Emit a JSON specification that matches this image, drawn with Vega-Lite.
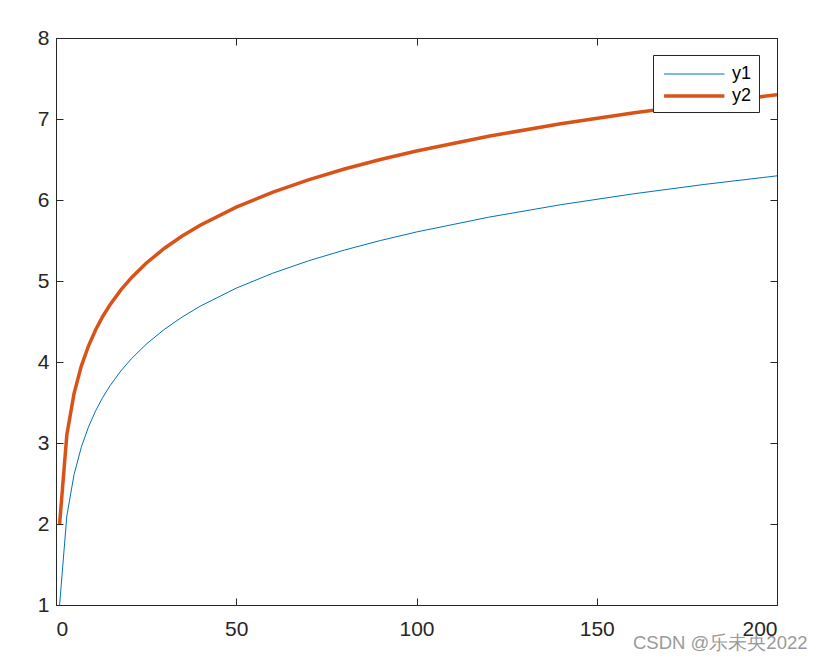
{
  "$schema": "https://vega.github.io/schema/vega-lite/v6.json",
  "width": 721,
  "height": 567,
  "autosize": "none",
  "padding": {"left": 56, "top": 38, "right": 45, "bottom": 56},
  "background": "white",
  "title": {
    "text": "CSDN @乐未央2022",
    "orient": "bottom",
    "anchor": "end",
    "offset": -5,
    "dx": 30,
    "font": "Liberation Sans",
    "fontSize": 18.5,
    "fontWeight": "normal",
    "color": "#9a9a9a"
  },
  "config": {
    "view": {"stroke": "#262626", "strokeWidth": 1},
    "font": "Liberation Sans",
    "axis": {
      "grid": false,
      "domainColor": "#262626",
      "tickColor": "#262626",
      "tickSize": -7,
      "labelColor": "#262626",
      "labelFontSize": 21,
      "labelFont": "Liberation Sans",
      "title": null
    }
  },
  "data": {
    "values": [
      {"x": 1, "y": 1.0, "s": "y1"},
      {"x": 3, "y": 2.0986, "s": "y1"},
      {"x": 5, "y": 2.6094, "s": "y1"},
      {"x": 7, "y": 2.9459, "s": "y1"},
      {"x": 9, "y": 3.1972, "s": "y1"},
      {"x": 11, "y": 3.3979, "s": "y1"},
      {"x": 13, "y": 3.5649, "s": "y1"},
      {"x": 15, "y": 3.7081, "s": "y1"},
      {"x": 18, "y": 3.8904, "s": "y1"},
      {"x": 21, "y": 4.0445, "s": "y1"},
      {"x": 25, "y": 4.2189, "s": "y1"},
      {"x": 30, "y": 4.4012, "s": "y1"},
      {"x": 35, "y": 4.5553, "s": "y1"},
      {"x": 40, "y": 4.6889, "s": "y1"},
      {"x": 50, "y": 4.912, "s": "y1"},
      {"x": 60, "y": 5.0943, "s": "y1"},
      {"x": 70, "y": 5.2485, "s": "y1"},
      {"x": 80, "y": 5.382, "s": "y1"},
      {"x": 90, "y": 5.4998, "s": "y1"},
      {"x": 100, "y": 5.6052, "s": "y1"},
      {"x": 120, "y": 5.7875, "s": "y1"},
      {"x": 140, "y": 5.9416, "s": "y1"},
      {"x": 160, "y": 6.0752, "s": "y1"},
      {"x": 180, "y": 6.193, "s": "y1"},
      {"x": 200, "y": 6.2983, "s": "y1"},
      {"x": 1, "y": 2.0, "s": "y2"},
      {"x": 3, "y": 3.0986, "s": "y2"},
      {"x": 5, "y": 3.6094, "s": "y2"},
      {"x": 7, "y": 3.9459, "s": "y2"},
      {"x": 9, "y": 4.1972, "s": "y2"},
      {"x": 11, "y": 4.3979, "s": "y2"},
      {"x": 13, "y": 4.5649, "s": "y2"},
      {"x": 15, "y": 4.7081, "s": "y2"},
      {"x": 18, "y": 4.8904, "s": "y2"},
      {"x": 21, "y": 5.0445, "s": "y2"},
      {"x": 25, "y": 5.2189, "s": "y2"},
      {"x": 30, "y": 5.4012, "s": "y2"},
      {"x": 35, "y": 5.5553, "s": "y2"},
      {"x": 40, "y": 5.6889, "s": "y2"},
      {"x": 50, "y": 5.912, "s": "y2"},
      {"x": 60, "y": 6.0943, "s": "y2"},
      {"x": 70, "y": 6.2485, "s": "y2"},
      {"x": 80, "y": 6.382, "s": "y2"},
      {"x": 90, "y": 6.4998, "s": "y2"},
      {"x": 100, "y": 6.6052, "s": "y2"},
      {"x": 120, "y": 6.7875, "s": "y2"},
      {"x": 140, "y": 6.9416, "s": "y2"},
      {"x": 160, "y": 7.0752, "s": "y2"},
      {"x": 180, "y": 7.193, "s": "y2"},
      {"x": 200, "y": 7.2983, "s": "y2"}
    ]
  },
  "layer": [
    {
      "mark": {"type": "line", "clip": true},
      "encoding": {
        "x": {"field": "x", "type": "quantitative", "scale": {"domain": [0, 200], "nice": false},
              "axis": {"values": [0, 50, 100, 150, 200], "labelPadding": 20}},
        "y": {"field": "y", "type": "quantitative", "scale": {"domain": [1, 8], "nice": false, "zero": false},
              "axis": {"values": [1, 2, 3, 4, 5, 6, 7, 8], "labelPadding": 14}},
        "color": {"field": "s", "type": "nominal",
                  "scale": {"domain": ["y1", "y2"], "range": ["#0072BD", "#D95319"]},
                  "legend": {"title": null, "orient": "none", "legendX": 597, "legendY": 17,
                             "symbolType": "M-0.8,0H4.6", "symbolSize": 500, "labelFontSize": 18,
                             "labelColor": "#000000", "strokeColor": "#262626", "fillColor": "white",
                             "padding": 7, "rowPadding": 0, "labelOffset": 46}},
        "strokeWidth": {"field": "s", "type": "nominal",
                        "scale": {"domain": ["y1", "y2"], "range": [1, 3.5]},
                        "legend": {"title": null, "orient": "none", "legendX": 597, "legendY": 17,
                             "symbolType": "M-0.8,0H4.6", "symbolSize": 500, "labelFontSize": 18,
                             "labelColor": "#000000", "strokeColor": "#262626", "fillColor": "white",
                             "padding": 7, "rowPadding": 0, "labelOffset": 46}}
      }
    },
    {
      "mark": {"type": "line", "strokeOpacity": 0},
      "encoding": {
        "x": {"field": "x", "type": "quantitative",
              "axis": {"orient": "top", "values": [0, 50, 100, 150, 200], "labels": false}},
        "y": {"field": "y", "type": "quantitative",
              "axis": {"orient": "right", "values": [1, 2, 3, 4, 5, 6, 7, 8], "labels": false}}
      }
    }
  ],
  "resolve": {"axis": {"x": "independent", "y": "independent"}}
}
